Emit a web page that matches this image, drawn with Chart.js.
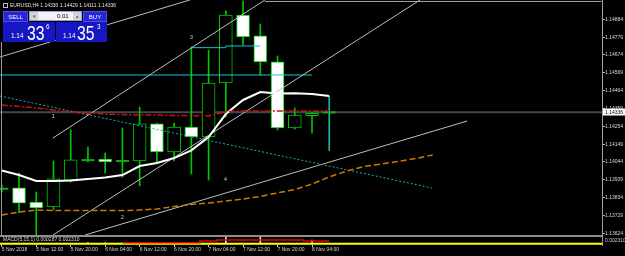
<!DOCTYPE html>
<html>
<head>
<meta charset="utf-8">
<script src="https://cdn.jsdelivr.net/npm/chart.js@4/dist/chart.umd.min.js"></script>
<style>
html,body{margin:0;padding:0;background:#000;width:625px;height:256px;overflow:hidden;font-family:"Liberation Sans",Arial,sans-serif}
#wrap{position:relative;width:625px;height:256px}
#c{position:absolute;left:0;top:0}
.abs{position:absolute;white-space:nowrap;box-sizing:border-box}
#ico{left:3px;top:3px;width:5px;height:5px;border:1px solid #bfbfbf}
#hdr{left:10px;top:2px;font-size:5px;line-height:6px;color:#e6e6e6}
.btn{top:11px;height:11px;background:#2626d2;border:1px solid #4d4dee;color:#fff;font-size:6px;display:flex;align-items:center;justify-content:center}
#sell{left:3px;width:25px}
#buy{left:83px;width:24px}
#lot{left:29px;top:11px;width:53px;height:10px;background:#f2f2f2;border:1px solid #9a9ad8}
.arr{top:0;width:8px;height:8px;background:#d4d4d4;color:#555;font-size:5px;display:flex;align-items:center;justify-content:center}
#dn{left:0}
#up{right:0}
#lotv{left:27px;top:0;height:8px;font-size:6px;line-height:8px;color:#000}
.box{top:22px;height:20px;background:#1616c2}
#bl{left:3px;width:52px}
#br{left:56px;width:51px}
.sm{font-size:8px;line-height:8px;color:#fff;transform:scaleX(0.8);transform-origin:0 0}
.big{font-size:21px;line-height:21px;color:#fff;transform:scaleX(0.75);transform-origin:0 0}
</style>
</head>
<body>
<div id="wrap">
<canvas id="c" width="625" height="256"></canvas>
<div class="abs" id="ico"></div>
<div class="abs" id="hdr">EURUSD,H4 1.14330 1.14429 1.14111 1.14336</div>
<div class="abs btn" id="sell">SELL</div>
<div class="abs" id="lot"><div class="abs arr" id="dn">&#9662;</div><div class="abs" id="lotv">0.01</div><div class="abs arr" id="up">&#9652;</div></div>
<div class="abs btn" id="buy">BUY</div>
<div class="abs box" id="bl"></div>
<div class="abs box" id="br"></div>
<div class="abs sm" style="left:11px;top:32px">1.14</div>
<div class="abs big" style="left:27px;top:22px">33</div>
<div class="abs sm" style="left:46px;top:23px">6</div>
<div class="abs sm" style="left:63px;top:32px">1.14</div>
<div class="abs big" style="left:77px;top:22px">35</div>
<div class="abs sm" style="left:97px;top:23px">3</div>
</div>
<script>
// ---------- data ----------
const tickBars   = [0, 2, 4, 6, 8, 10, 12, 14, 16, 18];
const tickLabels = ['5 Nov 2018','5 Nov 12:00','5 Nov 20:00','6 Nov 04:00','6 Nov 12:00','6 Nov 20:00','7 Nov 04:00','7 Nov 12:00','7 Nov 20:00','8 Nov 04:00'];
const yTickLabels = ['1.13624','1.13729','1.13834','1.13939','1.14044','1.14149','1.14254','1.14359','1.14464','1.14569','1.14674','1.14779','1.14884'];

const opens  = [1.13886,1.13891,1.13808,1.13779,1.13938,1.14055,1.14061,1.14050,1.14050,1.14268,1.14103,1.14250,1.14191,1.14509,1.14909,1.14786,1.14633,1.14244,1.14317,1.14330];
const highs  = [1.13908,1.13979,1.13867,1.14050,1.14232,1.14132,1.14097,1.14244,1.14368,1.14273,1.14273,1.14721,1.14703,1.14933,1.14992,1.14856,1.14668,1.14362,1.14333,1.14429];
const lows   = [1.13867,1.13744,1.13608,1.13761,1.13926,1.14044,1.13979,1.13955,1.13903,1.14038,1.14050,1.13973,1.13938,1.14309,1.14733,1.14556,1.14232,1.14238,1.14215,1.14111];
const closes = [1.13886,1.13802,1.13773,1.13944,1.14056,1.14055,1.14044,1.14050,1.14268,1.14103,1.14250,1.14191,1.14509,1.14909,1.14780,1.14633,1.14244,1.14320,1.14330,1.14336];

const maWhite  = [1.13994,1.13967,1.13932,1.13932,1.13935,1.13944,1.13953,1.13967,1.14020,1.14038,1.14067,1.14112,1.14191,1.14326,1.14409,1.14456,1.14447,1.14448,1.14444,1.14432];
const maOrange = [1.13732,1.13749,1.13761,1.13758,1.13758,1.13758,1.13758,1.13758,1.13761,1.13767,1.13782,1.13794,1.13802,1.13814,1.13826,1.13841,1.13862,1.13882,1.13914,1.13956,1.13990,1.14017,1.14032,1.14047,1.14064,1.14085];
const maRed    = [1.14379,1.14371,1.14362,1.14350,1.14338,1.14332,1.14326,1.14323,1.14320,1.14320,1.14317,1.14317,1.14315,1.14340,1.14344,1.14344,1.14344,1.14344,1.14344,1.14344];

const trendAX = [-0.1, 10.92], trendAY = [1.14662, 1.14998];
const trendBX = [2.97, 15.27], trendBY = [1.14185, 1.14998];
const trendCX = [2.97, 24.27], trendCY = [1.13614, 1.14998];
const trendDX = [4.83, 27.0],  trendDY = [1.13614, 1.14285];
const tealX   = [-0.1, 24.96], tealY   = [1.14432, 1.13891];
const cyanLevelX = [-0.1, 18.0], cyanLevelY = [1.14556, 1.14556];
const cyanStepX  = [11, 13, 13, 15], cyanStepY = [1.14717, 1.14717, 1.14727, 1.14727];
const topLevelX  = [15.27, 34.8], topLevelY = [1.14989, 1.14989];

const waveLabels = ['1', '2', '3', '4'];
const waveBars   = [2.98, 7.0, 11.0, 12.98];
const wavePrices = [1.14313, 1.13717, 1.14780, 1.13942];

const macdLevel = 0.000287;
const macdSignalBars = [7,8,9,10,11,12,13,14,15,16,17,18,19];
const macdSignal     = [0.0006,0.0006,0.0006,0.0006,0.0006,0.00117,0.0015,0.0015,0.0015,0.0015,0.0015,0.00117,0.00117];
const macdHistBars   = [5, 6, 7, 13, 15, 18];
const macdHist       = [0.0006, 0.0006, 0.0006, 0.0025, 0.0025, 0.0015];
const macdText = 'MACD(5,15,1) 0.000287 0.002310';
const macdScaleText = '0.002310';

// ---------- view ----------
const X_MIN = -0.1027, X_MAX = 34.826;
const Y_MIN = 1.135551, Y_MAX = 1.149976;
const Y2_MIN = -0.0001667, Y2_MAX = 0.0815;
const MAIN_BOTTOM = 1.13614;

const GREEN = '#00c800';
const bars = opens.map((_, i) => i);
const isDoji = i => Math.abs(closes[i] - opens[i]) < 0.00008;
const last = bars.length - 1;

const wickData = bars.map(i => ({x: i, y: [lows[i], highs[i]]}));
const wickColors = bars.map(i => i === last ? '#20b0a8' : GREEN);
const bodyBars = bars.filter(i => !isDoji(i));
const bodyData = bodyBars.map(i => ({x: i, y: [opens[i], closes[i]]}));
const bodyFill = bodyBars.map(i => closes[i] > opens[i] ? '#000000' : '#ffffff');
const dojiData = bars.filter(isDoji).map(i => ({x: i, y: closes[i]}));

const pts = (xs, ys) => xs.map((x, k) => ({x, y: ys[k]}));
const line = (label, data, o) => Object.assign({type: 'line', label, data, pointRadius: 0, fill: false, tension: 0, borderWidth: 1}, o);

const overlay = {
  id: 'overlay',
  afterDatasetsDraw(chart) {
    const {ctx, chartArea: a, scales: {x, y}} = chart;
    ctx.save();
    const ys = y.getPixelForValue(MAIN_BOTTOM);
    // left frame line
    ctx.fillStyle = '#9a9a9a';
    ctx.fillRect(a.left + 1, 42, 1, ys - 42);
    // separator between main window and sub-window
    ctx.fillStyle = '#8e8e8e';
    ctx.fillRect(a.left, ys, a.right - a.left, 2);
    // wave labels
    ctx.font = '6px "Liberation Sans"';
    ctx.fillStyle = '#c8c8c8';
    ctx.textAlign = 'center';
    ctx.textBaseline = 'middle';
    waveLabels.forEach((t, k) => ctx.fillText(t, x.getPixelForValue(waveBars[k]), y.getPixelForValue(wavePrices[k])));
    // MACD caption
    ctx.font = '5px "Liberation Sans"';
    ctx.fillStyle = '#dcdcdc';
    ctx.textAlign = 'left';
    ctx.fillText(macdText, a.left + 3, ys + 5);
    ctx.restore();
  },
  afterDraw(chart) {
    const {ctx, chartArea: a, scales: {y}} = chart;
    ctx.save();
    const py = y.getPixelForValue(closes[last]);
    ctx.fillStyle = '#ffffff';
    ctx.fillRect(a.right + 1, Math.round(py) - 3.5, 22, 7);
    ctx.fillStyle = '#000000';
    ctx.font = '5px "Liberation Sans"';
    ctx.textAlign = 'left';
    ctx.textBaseline = 'middle';
    ctx.fillText(closes[last].toFixed(5), a.right + 3, py);
    ctx.fillStyle = '#cfcfcf';
    ctx.fillText(macdScaleText, a.right + 3, y.getPixelForValue(MAIN_BOTTOM) + 5.5);
    ctx.restore();
  }
};

Chart.defaults.font.family = '"Liberation Sans", Arial, sans-serif';
Chart.defaults.font.size = 5;
Chart.defaults.color = '#d8d8d8';

new Chart(document.getElementById('c'), {
  type: 'bar',
  data: {
    datasets: [
      line('bid', pts([X_MIN, X_MAX], [closes[last], closes[last]]), {borderColor: '#3e4854', borderWidth: 2, order: 20}),
      {type: 'bar', label: 'wicks', data: wickData, backgroundColor: wickColors, barThickness: 1, grouped: false, borderWidth: 0, order: 12},
      {type: 'bar', label: 'bodies', data: bodyData, backgroundColor: bodyFill, borderColor: GREEN, borderWidth: 1, borderSkipped: false, barThickness: 13, grouped: false, order: 11},
      {type: 'line', label: 'doji', data: dojiData, showLine: false, pointStyle: 'line', pointRadius: 6.5, pointBorderWidth: 2, pointBorderColor: '#12a812', pointBackgroundColor: '#12a812', order: 10},
      line('cyanLevel', pts(cyanLevelX, cyanLevelY), {borderColor: '#10c8d0', order: 9}),
      line('cyanStep', pts(cyanStepX, cyanStepY), {borderColor: '#10c8d0', order: 9}),
      line('topLevel', pts(topLevelX, topLevelY), {borderColor: '#a8a8a8', order: 9}),
      line('trendA', pts(trendAX, trendAY), {borderColor: '#bdbdbd', order: 8}),
      line('trendB', pts(trendBX, trendBY), {borderColor: '#bdbdbd', order: 8}),
      line('trendC', pts(trendCX, trendCY), {borderColor: '#bdbdbd', order: 8}),
      line('trendD', pts(trendDX, trendDY), {borderColor: '#bdbdbd', order: 8}),
      line('teal', pts(tealX, tealY), {borderColor: '#22b0a8', borderDash: [2, 2], order: 7}),
      line('maOrange', maOrange.map((v, i) => ({x: i, y: v})), {borderColor: '#cc7a00', borderWidth: 1.5, borderDash: [6, 3], order: 6}),
      line('maWhite', maWhite.map((v, i) => ({x: i, y: v})), {borderColor: '#ffffff', borderWidth: 2, order: 5}),
      line('maRed', maRed.map((v, i) => ({x: i, y: v})), {borderColor: '#cc1010', borderWidth: 1.5, borderDash: [6, 2, 2, 2], order: 4}),
      line('macdLevel', pts([X_MIN, X_MAX], [macdLevel, macdLevel]), {yAxisID: 'y2', borderColor: '#ffff00', borderWidth: 2, order: 3}),
      {type: 'bar', label: 'macdHist', yAxisID: 'y2', data: macdHistBars.map((b, k) => ({x: b, y: [macdLevel, macdHist[k]]})), backgroundColor: '#e8e8e8', barThickness: 1, grouped: false, borderWidth: 0, order: 2},
      line('macdSignal', pts(macdSignalBars, macdSignal), {yAxisID: 'y2', borderColor: '#e00000', borderWidth: 1.5, stepped: 'middle', order: 1})
    ]
  },
  options: {
    responsive: false,
    animation: false,
    devicePixelRatio: 1,
    layout: {padding: 0, autoPadding: false},
    plugins: {legend: {display: false}, tooltip: {enabled: false}},
    scales: {
      x: {
        type: 'linear', min: X_MIN, max: X_MAX, offset: false,
        afterBuildTicks: s => { s.ticks = tickBars.map(v => ({value: v})); },
        afterFit: s => { s.height = 11; s.paddingLeft = 0; s.paddingRight = 0; },
        ticks: {autoSkip: false, maxRotation: 0, minRotation: 0, align: 'start', padding: 0, color: '#d8d8d8', font: {size: 5}, callback: (v, k) => tickLabels[k]},
        grid: {drawOnChartArea: false, drawTicks: true, tickLength: 2, tickColor: '#c8c8c8', offset: false},
        border: {display: false}
      },
      y: {
        type: 'linear', position: 'right', min: Y_MIN, max: Y_MAX,
        afterBuildTicks: s => { s.ticks = yTickLabels.map(t => ({value: parseFloat(t)})); },
        afterFit: s => { s.width = 23; s.paddingTop = 0; s.paddingBottom = 0; },
        ticks: {autoSkip: false, padding: 0, color: '#d8d8d8', font: {size: 5}, callback: (v, k) => yTickLabels[k]},
        grid: {drawOnChartArea: false, drawTicks: true, tickLength: 3, tickColor: '#b0b0b0'},
        border: {display: true, color: '#a0a0a0', width: 1}
      },
      y2: {type: 'linear', display: false, min: Y2_MIN, max: Y2_MAX}
    }
  },
  plugins: [overlay]
});
</script>
</body>
</html>
